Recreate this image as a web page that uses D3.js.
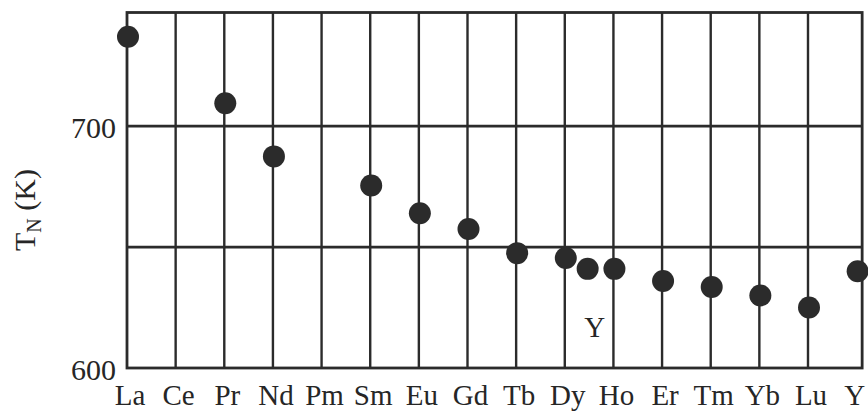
<!DOCTYPE html>
<html>
<head>
<meta charset="utf-8">
<script src="https://cdn.jsdelivr.net/npm/d3@7"></script>
<style>
  html, body { margin: 0; padding: 0; background: #fff; }
  svg { display: block; }
  text { font-family: "Liberation Serif", "Times New Roman", serif; fill: #262626; }
</style>
</head>
<body>
<svg id="chart" width="868" height="414"></svg>
<script>
// Rare-earth elements along the x axis, Néel temperature T_N in kelvin
const elements = ["La", "Ce", "Pr", "Nd", "Pm", "Sm", "Eu", "Gd", "Tb", "Dy", "Ho", "Er", "Tm", "Yb", "Lu", "Y"];
const measuredElements = ["La", "Pr", "Nd", "Sm", "Eu", "Gd", "Tb", "Dy", "Ho", "Er", "Tm", "Yb", "Lu", "Y"];
const neelTemps = [737, 709.5, 687.5, 675.5, 664, 657.5, 647.5, 645.5, 641, 636, 633.5, 630, 625, 640];
// Yttrium placed again between Dy and Ho, by its ionic radius
const yttriumPosition = 9.47;
const yttriumTemp = 641;
const yTickLabels = [600, 700];
const yGridValues = [650, 700];

const svg = d3.select("#chart");
const ink = "#2b2b2b";

const margin = { left: 127, top: 12.5, bottom: 368 };
const x = d3.scaleLinear().domain([0, 14]).range([127, 808]);
const y = d3.scaleLinear().domain([600, 747]).range([margin.bottom, margin.top]);
const frameRight = x(15) + 5.5;

// horizontal grid lines
svg.append("g")
  .selectAll("line")
  .data(yGridValues)
  .join("line")
  .attr("x1", margin.left).attr("x2", frameRight)
  .attr("y1", d => y(d)).attr("y2", d => y(d))
  .attr("stroke", ink).attr("stroke-width", 2.6);

// vertical grid lines at each element
svg.append("g")
  .selectAll("line")
  .data(d3.range(1, 15))
  .join("line")
  .attr("x1", d => x(d)).attr("x2", d => x(d))
  .attr("y1", margin.top).attr("y2", margin.bottom)
  .attr("stroke", ink).attr("stroke-width", 2.4);

// plot frame
svg.append("rect")
  .attr("x", margin.left).attr("y", margin.top)
  .attr("width", frameRight - margin.left)
  .attr("height", margin.bottom - margin.top)
  .attr("fill", "none").attr("stroke", ink).attr("stroke-width", 2.8);

// y tick labels
svg.append("g")
  .selectAll("text")
  .data(yTickLabels)
  .join("text")
  .attr("x", 116).attr("y", d => y(d) + 12)
  .attr("text-anchor", "end")
  .attr("font-size", 30)
  .text(d => d);

// x category labels (the last one kept inside the page edge)
svg.append("g")
  .selectAll("text")
  .data(elements)
  .join("text")
  .attr("x", (d, i) => i === elements.length - 1 ? x(i) - 2 : x(i) + 3)
  .attr("y", 405)
  .attr("text-anchor", "middle")
  .attr("font-size", 29)
  .text(d => d);

// y axis title T_N (K)
const yTitle = svg.append("text")
  .attr("transform", "translate(35,210) rotate(-90)")
  .attr("text-anchor", "middle")
  .attr("font-size", 30);
yTitle.append("tspan").text("T");
yTitle.append("tspan").attr("font-size", 20).attr("dy", 6).text("N");
yTitle.append("tspan").attr("dy", -6).text(" (K)");

// data points
svg.append("g")
  .selectAll("circle")
  .data(measuredElements.map((el, i) => ({ pos: elements.indexOf(el), t: neelTemps[i] })))
  .join("circle")
  .attr("cx", d => x(d.pos) + 1)
  .attr("cy", d => y(d.t))
  .attr("r", 11)
  .attr("fill", ink);

svg.append("circle")
  .attr("cx", x(yttriumPosition))
  .attr("cy", y(yttriumTemp))
  .attr("r", 11)
  .attr("fill", ink);

svg.append("text")
  .attr("x", x(yttriumPosition) + 7)
  .attr("y", 337)
  .attr("text-anchor", "middle")
  .attr("font-size", 29)
  .text("Y");
</script>
</body>
</html>
